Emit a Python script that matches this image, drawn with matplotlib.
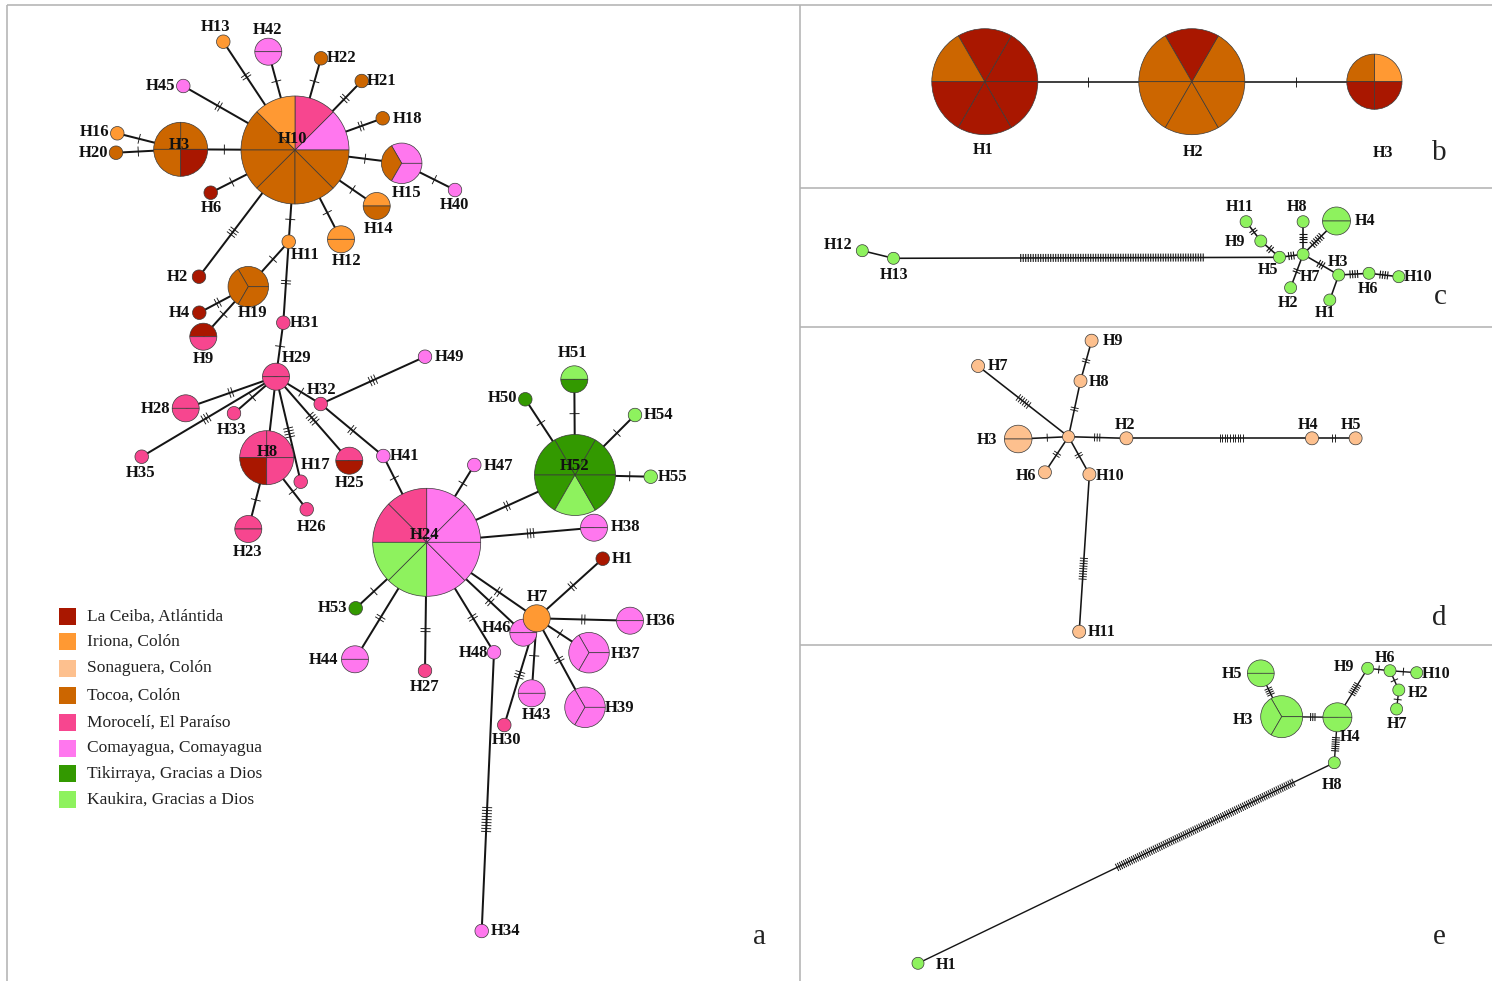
import numpy as np
import matplotlib
matplotlib.use('Agg')
from matplotlib import pyplot as plt
from matplotlib.patches import Wedge, Rectangle
from matplotlib.collections import LineCollection

# populations
POP_CODES = ['LC', 'IR', 'SO', 'TO', 'MO', 'CO', 'TI', 'KA']
POP_NAMES = ['La Ceiba, Atlántida', 'Iriona, Colón', 'Sonaguera, Colón', 'Tocoa, Colón',
             'Morocelí, El Paraíso', 'Comayagua, Comayagua', 'Tikirraya, Gracias a Dios',
             'Kaukira, Gracias a Dios']
POP_COLORS = ['#A91700', '#FF9933', '#FDC08E', '#CC6600', '#F7468F', '#FF77EE', '#339900', '#8EF25E']
COLORS = dict(zip(POP_CODES, POP_COLORS))

# ---- network a: haplotypes, sample count, slices (counter-clockwise from east)
a_names = ['H1', 'H2', 'H3', 'H4', 'H6', 'H7', 'H8', 'H9', 'H10', 'H11', 'H12', 'H13', 'H14',
           'H15', 'H16', 'H17', 'H18', 'H19', 'H20', 'H21', 'H22', 'H23', 'H24', 'H25', 'H26',
           'H27', 'H28', 'H29', 'H30', 'H31', 'H32', 'H33', 'H34', 'H35', 'H36', 'H37', 'H38',
           'H39', 'H40', 'H41', 'H42', 'H43', 'H44', 'H45', 'H46', 'H47', 'H48', 'H49', 'H50',
           'H51', 'H52', 'H53', 'H54', 'H55']
a_count = [1, 1, 4, 1, 1, 2, 4, 2, 8, 1, 2, 1, 2,
           3, 1, 1, 1, 3, 1, 1, 1, 2, 8, 2, 1,
           1, 2, 2, 1, 1, 1, 1, 1, 1, 2, 3, 2,
           3, 1, 1, 2, 2, 2, 1, 2, 1, 1, 1, 1,
           2, 6, 1, 1, 1]
a_comp = ['LC', 'LC', 'TO TO TO LC', 'LC', 'LC', 'IR', 'MO MO LC MO', 'LC MO',
          'CO MO IR TO TO TO TO TO', 'IR', 'IR IR', 'IR', 'IR TO',
          'CO TO CO', 'IR', 'MO', 'TO', 'TO TO TO', 'TO', 'TO', 'TO', 'MO MO',
          'CO CO MO MO KA KA CO CO', 'MO LC', 'MO',
          'MO', 'MO MO', 'MO MO', 'MO', 'MO', 'MO', 'MO', 'CO', 'MO', 'CO CO', 'CO CO CO', 'CO CO',
          'CO CO CO', 'CO', 'CO', 'CO CO', 'CO CO', 'CO CO', 'CO', 'CO CO', 'CO', 'CO', 'CO', 'TI',
          'KA TI', 'TI TI TI TI KA TI', 'TI', 'KA', 'KA']
# links with number of mutational steps
a_edges = [('H10', 'H3', 1), ('H3', 'H16', 1), ('H3', 'H20', 1), ('H10', 'H45', 2), ('H10', 'H13', 2),
           ('H10', 'H42', 1), ('H10', 'H22', 1), ('H10', 'H21', 2), ('H10', 'H18', 2), ('H10', 'H15', 1),
           ('H15', 'H40', 1), ('H10', 'H14', 1), ('H10', 'H12', 1), ('H10', 'H11', 1), ('H10', 'H6', 1),
           ('H10', 'H2', 3), ('H11', 'H19', 1), ('H11', 'H31', 2), ('H19', 'H4', 2), ('H19', 'H9', 1),
           ('H31', 'H29', 1), ('H29', 'H28', 2), ('H29', 'H35', 3), ('H29', 'H33', 1), ('H29', 'H8', 0),
           ('H29', 'H17', 4), ('H29', 'H25', 4), ('H29', 'H32', 1), ('H32', 'H49', 3), ('H32', 'H41', 2),
           ('H41', 'H24', 1), ('H8', 'H23', 1), ('H8', 'H26', 1), ('H24', 'H47', 1), ('H52', 'H51', 1),
           ('H52', 'H50', 1), ('H52', 'H54', 1), ('H52', 'H55', 1), ('H24', 'H52', 2), ('H24', 'H38', 3),
           ('H7', 'H1', 2), ('H24', 'H7', 2), ('H24', 'H46', 2), ('H24', 'H48', 2), ('H24', 'H27', 2),
           ('H24', 'H44', 2), ('H24', 'H53', 1), ('H7', 'H36', 2), ('H7', 'H37', 1), ('H7', 'H39', 2),
           ('H7', 'H43', 1), ('H7', 'H30', 3), ('H48', 'H34', 9)]

# ---- network b
b_names = ['H1', 'H2', 'H3']
b_comp = ['LC LC TO LC LC LC', 'TO LC TO TO TO TO', 'IR TO LC LC']
b_edges = [('H1', 'H2', 1), ('H2', 'H3', 1)]

# ---- network c
c_names = ['H1', 'H2', 'H3', 'H4', 'H5', 'H6', 'H7', 'H8', 'H9', 'H10', 'H11', 'H12', 'H13']
c_comp = ['KA', 'KA', 'KA', 'KA KA', 'KA', 'KA', 'KA', 'KA', 'KA', 'KA', 'KA', 'KA', 'KA']
c_edges = [('H12', 'H13', 0), ('H13', 'H5', 74), ('H5', 'H9', 2), ('H9', 'H11', 2), ('H5', 'H7', 3),
           ('H7', 'H8', 4), ('H7', 'H4', 6), ('H7', 'H2', 2), ('H7', 'H3', 3), ('H3', 'H1', 0),
           ('H3', 'H6', 4), ('H6', 'H10', 4)]

# ---- network d ('' is the unlabelled median node)
d_names = ['', 'H2', 'H3', 'H4', 'H5', 'H6', 'H7', 'H8', 'H9', 'H10', 'H11']
d_comp = ['SO', 'SO', 'SO SO', 'SO', 'SO', 'SO', 'SO', 'SO', 'SO', 'SO', 'SO']
d_edges = [('', 'H3', 1), ('', 'H2', 3), ('H2', 'H4', 10), ('H4', 'H5', 2), ('', 'H8', 2),
           ('H8', 'H9', 2), ('', 'H7', 6), ('', 'H6', 2), ('', 'H10', 2), ('H10', 'H11', 9)]

# ---- network e
e_names = ['H1', 'H2', 'H3', 'H4', 'H5', 'H6', 'H7', 'H8', 'H9', 'H10']
e_comp = ['KA', 'KA', 'KA KA KA', 'KA KA', 'KA KA', 'KA', 'KA', 'KA', 'KA', 'KA']
e_edges = [('H3', 'H5', 4), ('H3', 'H4', 3), ('H4', 'H9', 6), ('H4', 'H8', 7), ('H8', 'H1', 90),
           ('H9', 'H6', 1), ('H6', 'H10', 1), ('H6', 'H2', 1), ('H2', 'H7', 1)]

# layout (pixel coordinates on the page): node centres, radii and label anchors
a_x = [602.7, 199, 180.7, 199.3, 210.7, 536.7, 266.7, 203.3, 295, 288.7, 341, 223.3, 376.7,
       401.7, 117.3, 300.7, 382.7, 248.3, 116, 361.7, 321, 248.3, 426.7, 349.3, 306.7,
       425, 185.7, 276, 504.3, 283.3, 320.7, 234, 481.7, 141.7, 630, 589, 594,
       585, 455, 383.3, 268.3, 531.7, 355, 183.3, 523.3, 474.3, 494, 425, 525.3,
       574.3, 575, 355.7, 635, 650.7]
a_y = [558.7, 276.7, 149.3, 312.7, 192.7, 618.3, 457.7, 336.7, 150, 241.7, 239.3, 41.7, 206,
       163.3, 133.3, 481.7, 118.3, 286.7, 152.7, 81, 58.3, 529, 542.3, 460.7, 509.3,
       670.7, 408.3, 376.7, 725, 322.7, 404, 413.3, 931, 456.7, 620.7, 652.7, 527.7,
       707.3, 190, 456, 51.7, 693.3, 659.3, 86, 632.7, 465, 652.3, 356.7, 399.3,
       379.3, 475, 608.3, 415, 476.7]
a_r = [6.75 * n for n in a_count]
a_lx = [622, 177, 179, 179, 211, 537, 267, 203, 293, 305, 347, 216, 379,
        407, 95, 316, 408, 253, 94, 382, 342, 248, 425, 350, 312,
        425, 156, 297, 507, 305, 322, 232, 506, 141, 661, 626, 626,
        620, 454, 405, 268, 537, 323, 161, 497, 499, 473, 450, 503,
        573, 575, 333, 659, 673]
a_ly = [559, 277, 145, 313, 208, 597, 452, 359, 139, 255, 261, 27, 229,
        193, 132, 465, 119, 313, 153, 81, 58, 552, 535, 483, 527,
        687, 409, 358, 740, 323, 390, 430, 931, 473, 621, 654, 527,
        708, 205, 456, 30, 715, 660, 86, 628, 466, 653, 357, 398,
        353, 466, 608, 415, 477]
# where a run of mutation marks sits along its link (fraction from the first node)
a_tick_at = {('H48', 'H34'): 0.6}

b_x = [984.8, 1191.8, 1374.4]
b_y = [81.7, 81.7, 81.7]
b_r = [53, 53, 27.6]
b_lx = [983, 1193, 1383]
b_ly = [150, 152, 153]

c_x = [1329.8, 1290.6, 1338.7, 1336.5, 1279.5, 1369, 1303.1, 1303.1, 1260.8, 1398.8, 1246.1, 862.3, 893.5]
c_y = [300, 287.7, 275, 221, 257.3, 273.3, 254.3, 221.7, 241, 276.7, 221.7, 250.7, 258.3]
c_r = [6, 6, 6, 14, 6, 6, 6, 6, 6, 6, 6, 6, 6]
c_lx = [1325, 1288, 1338, 1365, 1268, 1368, 1310, 1297, 1235, 1418, 1240, 838, 894]
c_ly = [313, 303, 262, 221, 270, 289, 277, 207, 242, 277, 207, 245, 275]
c_tick_at = {('H13', 'H5'): 0.566}

d_x = [1068.5, 1126.4, 1018.2, 1312, 1355.6, 1044.9, 978.1, 1080.5, 1091.6, 1089.4, 1079.2]
d_y = [436.7, 438.3, 439, 438.3, 438.3, 472.3, 366, 381, 340.7, 474.3, 631.7]
d_r = [6, 6.5, 13.8, 6.5, 6.5, 6.5, 6.5, 6.5, 6.5, 6.5, 6.5]
d_lx = [0, 1125, 987, 1308, 1351, 1026, 998, 1099, 1113, 1110, 1102]
d_ly = [0, 425, 440, 425, 425, 476, 366, 382, 341, 476, 632]
d_tick_at = {('H2', 'H4'): 0.565, ('H10', 'H11'): 0.6}

e_x = [918, 1398.8, 1281.7, 1337.4, 1260.8, 1390, 1396.6, 1334.3, 1367.7, 1416.7]
e_y = [963.3, 690, 716.7, 717.3, 673.3, 670.7, 709, 762.7, 668.3, 672.7]
e_r = [6, 6, 21, 14.5, 13.4, 6, 6, 6, 6, 6]
e_lx = [946, 1418, 1243, 1350, 1232, 1385, 1397, 1332, 1344, 1436]
e_ly = [965, 693, 720, 737, 674, 658, 724, 785, 667, 674]
e_tick_at = {('H8', 'H1'): 0.31}

PT = 72 / 100  # pixel -> point at 100 dpi
SERIF = ['Liberation Serif', 'DejaVu Serif']


def draw_network(ax, names, comps, xs, ys, rs, edges, lx, ly, tick_at=None,
                 edge_px=2.0, tick_len=10, tick_gap=3.0, tick_px=0.9, fs=12):
    tick_at = tick_at or {}
    idx = {n: i for i, n in enumerate(names)}
    links, ticks = [], []
    for a, b, steps in edges:
        i, j = idx[a], idx[b]
        p = np.array([xs[i], ys[i]])
        q = np.array([xs[j], ys[j]])
        d = q - p
        length = np.hypot(*d)
        u = d / length
        nrm = np.array([-u[1], u[0]])
        links.append([p, q])
        if (a, b) in tick_at:
            mid = tick_at[(a, b)] * length
        else:
            mid = (rs[i] + length - rs[j]) / 2
        for k in range(steps):
            c = p + u * (mid + (k - (steps - 1) / 2) * tick_gap)
            ticks.append([c - nrm * tick_len / 2, c + nrm * tick_len / 2])
    ax.add_collection(LineCollection(links, colors='#151515', linewidths=edge_px * PT, zorder=1))
    ax.add_collection(LineCollection(ticks, colors='#151515', linewidths=tick_px * PT, zorder=1.5))

    for i, name in enumerate(names):
        slices = comps[i].split()
        n = len(slices)
        # earlier haplotypes sit on top where circles touch
        z = 2 + (len(names) - i) * 1e-3
        for k, pop in enumerate(slices):
            t1, t2 = 360 * k / n, 360 * (k + 1) / n
            # y axis runs downwards, so angles are mirrored
            ax.add_patch(Wedge((xs[i], ys[i]), rs[i], -t2, -t1, facecolor=COLORS[pop],
                               edgecolor='#3a3a3a', linewidth=0.7 * PT, zorder=z))
        if name:
            ax.text(lx[i], ly[i], name, ha='center', va='center', fontsize=fs,
                    family=SERIF, weight='bold', color='#111111', zorder=3)


fig = plt.figure(figsize=(14.99, 9.81), dpi=100)
ax = fig.add_axes([0, 0, 1, 1])
ax.set_xlim(0, 1499)
ax.set_ylim(981, 0)
ax.axis('off')

# panel frames
frame = [[(7, 5), (1492, 5)], [(7, 5), (7, 981)], [(800, 5), (800, 981)],
         [(800, 188), (1492, 188)], [(800, 327), (1492, 327)], [(800, 645), (1492, 645)]]
ax.add_collection(LineCollection(frame, colors='#b4b4b4', linewidths=1.6 * PT, zorder=0))

draw_network(ax, a_names, a_comp, a_x, a_y, a_r, a_edges, a_lx, a_ly, a_tick_at)
draw_network(ax, b_names, b_comp, b_x, b_y, b_r, b_edges, b_lx, b_ly, edge_px=1.6, fs=11.5)
draw_network(ax, c_names, c_comp, c_x, c_y, c_r, c_edges, c_lx, c_ly, c_tick_at,
             edge_px=1.6, tick_len=8, tick_gap=2.5, tick_px=1.1, fs=11.5)
draw_network(ax, d_names, d_comp, d_x, d_y, d_r, d_edges, d_lx, d_ly, d_tick_at,
             edge_px=1.6, tick_len=8, tick_gap=2.6, fs=11.5)
draw_network(ax, e_names, e_comp, e_x, e_y, e_r, e_edges, e_lx, e_ly, e_tick_at,
             edge_px=1.4, tick_len=8, tick_gap=2.2, tick_px=1.0, fs=11.5)

# panel letters
for letter, x, y in [('a', 760, 937), ('b', 1439, 153), ('c', 1440, 297), ('d', 1439, 618), ('e', 1439, 937)]:
    ax.text(x, y, letter, ha='center', va='center', fontsize=21, family=SERIF, color='#222222')

# legend
leg_y = [616, 641, 668, 695, 722, 748, 773, 799]
for code, label, y in zip(POP_CODES, POP_NAMES, leg_y):
    ax.add_patch(Rectangle((59, y - 8), 17, 17, facecolor=COLORS[code], edgecolor='none', zorder=2))
    ax.text(87, y + 0.5, label, ha='left', va='center', fontsize=12.5, family=SERIF, color='#222222')

fig.savefig('out.png', dpi=100)
